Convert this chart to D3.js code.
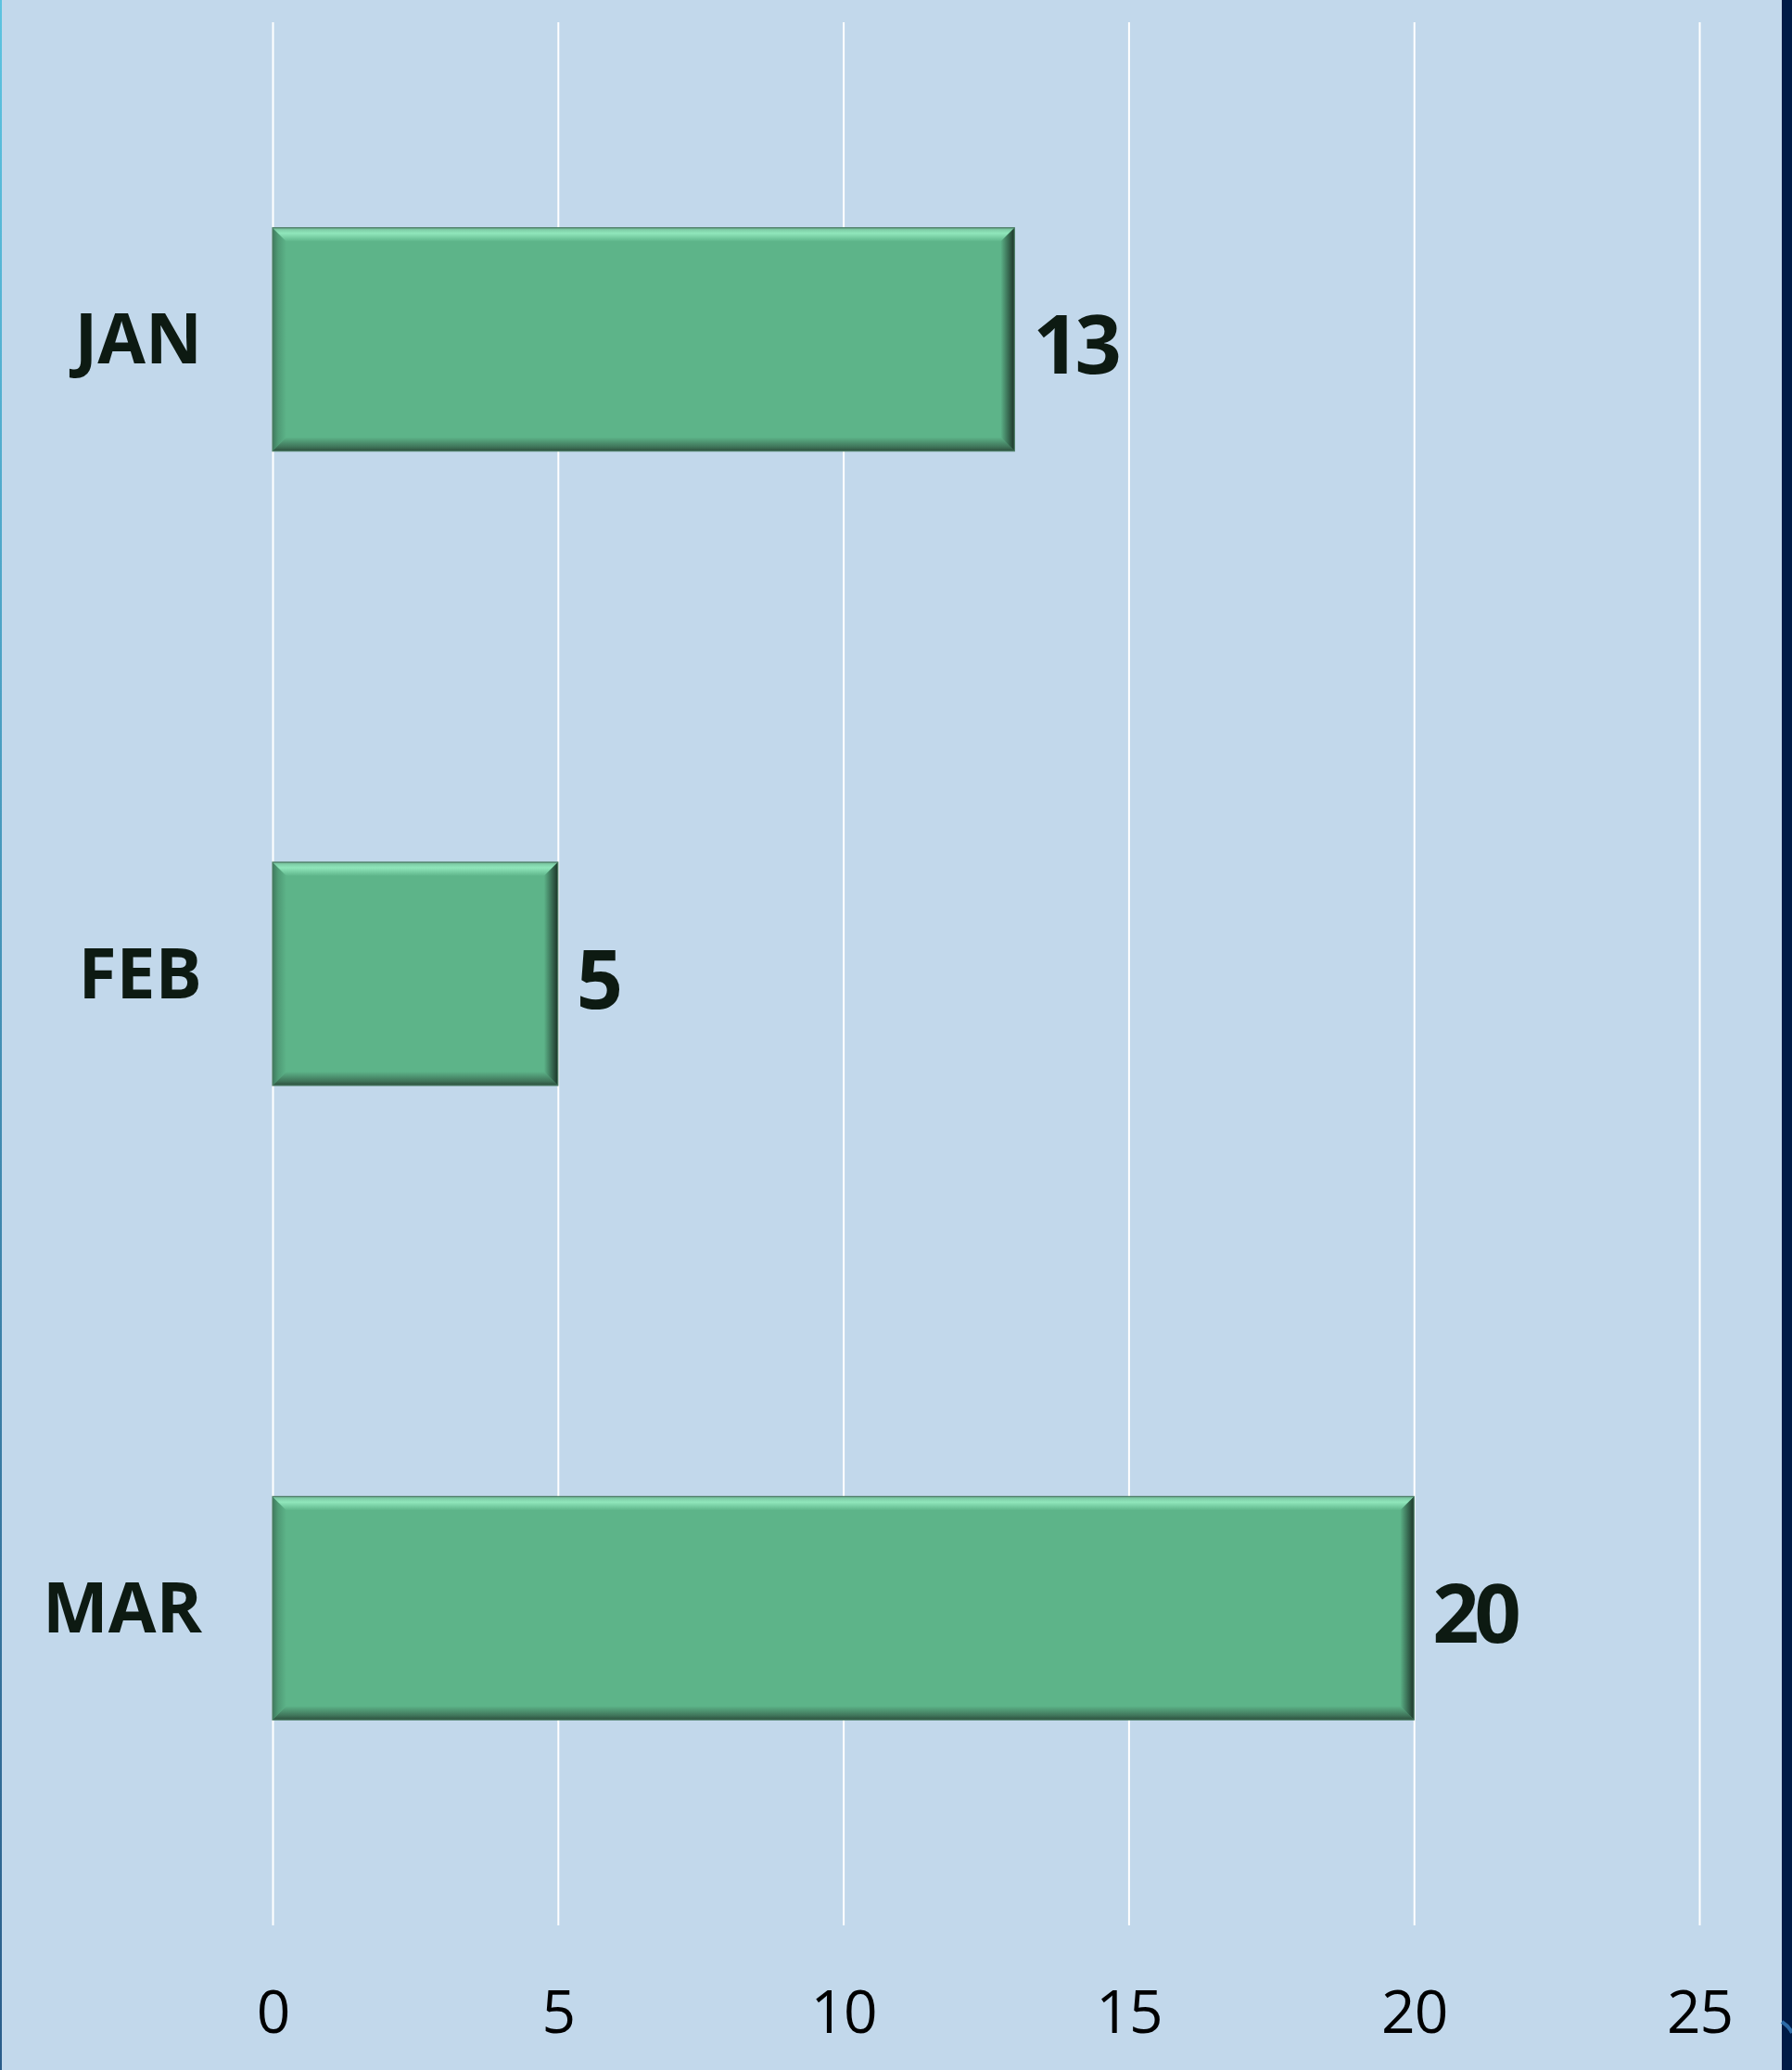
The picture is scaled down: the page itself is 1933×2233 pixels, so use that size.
<!DOCTYPE html>
<html>
<head>
<meta charset="utf-8">
<script src="https://cdn.jsdelivr.net/npm/d3@7"></script>
<style>
  html, body { margin: 0; padding: 0; background: #c2d8eb; }
  svg { display: block; }
  text { font-family: "Open Sans", "Noto Sans", sans-serif; }
</style>
</head>
<body>
<svg id="chart"></svg>
<script>
// data
let months = ["JAN", "FEB", "MAR"];
let counts = [13, 5, 20];
let xTicks = [0, 5, 10, 15, 20, 25];

let W = 1933, H = 2233;
let plot = { left: 294, right: 1833, top: 24, bottom: 2077 };

let svg = d3.select("#chart")
    .attr("width", W)
    .attr("height", H)

svg.append("rect")
    .attr("width", W)
    .attr("height", H)
    .attr("fill", "#c2d8eb")

let xScale = d3.scaleLinear()
    .domain([0, 25])
    .range([plot.left, plot.right])

let yScale = d3.scaleBand()
    .domain(months)
    .range([plot.top, plot.bottom])
    .paddingInner(0.648)
    .paddingOuter(0.324)

// gridlines + tick labels in one axis
let xAxis = d3.axisBottom(xScale)
    .tickValues(xTicks)
    .tickSize(-(plot.bottom - plot.top))
    .tickPadding(71)

let gx = svg.append("g")
    .attr("transform", "translate(0," + plot.bottom + ")")
    .call(xAxis)
gx.select(".domain").remove()
gx.selectAll("line").attr("stroke", "#ffffff").attr("stroke-width", 2)
gx.selectAll("text")
    .attr("fill", "#000")
    .style("font-size", "64px")
    .style("letter-spacing", "-1px")

// bevel gradients
let defs = svg.append("defs");
function grad(id, x1, y1, x2, y2, stops) {
    let g = defs.append("linearGradient").attr("id", id)
        .attr("x1", x1).attr("y1", y1).attr("x2", x2).attr("y2", y2)
    stops.forEach(s => g.append("stop").attr("offset", s[0]).attr("stop-color", s[1]))
}
let fill = "#5db489";
grad("bevTop", 0, 0, 0, 1, [[0, "#6aa888"], [0.15, "#7fcfa8"], [0.4, "#90e6bb"], [1, fill]])
grad("bevRight", 1, 0, 0, 0, [[0, "#1c3528"], [0.3, "#2f5a45"], [1, fill]])
grad("bevBottom", 0, 1, 0, 0, [[0, "#2c4f3d"], [0.3, "#3f7459"], [1, fill]])
grad("bevLeft", 0, 0, 1, 0, [[0, "#3f7a5e"], [0.4, "#4f9b76"], [1, fill]])

let bev = 15;
let bars = svg.append("g").selectAll("g")
    .data(months.map((m, i) => ({ month: m, value: counts[i] })))
    .enter()
    .append("g")

bars.append("rect")
    .attr("x", xScale(0))
    .attr("y", d => yScale(d.month))
    .attr("width", d => xScale(d.value) - xScale(0))
    .attr("height", yScale.bandwidth())
    .attr("fill", fill)

//four trapezoids make the bevelled edge
function trap(d, side) {
    let x0 = xScale(0), x1 = xScale(d.value);
    let y0 = yScale(d.month), y1 = y0 + yScale.bandwidth();
    let b = bev;
    if (side == "top") return [[x0, y0], [x1, y0], [x1 - b, y0 + b], [x0 + b, y0 + b]];
    if (side == "bottom") return [[x0, y1], [x1, y1], [x1 - b, y1 - b], [x0 + b, y1 - b]];
    if (side == "left") return [[x0, y0], [x0 + b, y0 + b], [x0 + b, y1 - b], [x0, y1]];
    return [[x1, y0], [x1 - b, y0 + b], [x1 - b, y1 - b], [x1, y1]];
}
let bevFill = { top: "url(#bevTop)", bottom: "url(#bevBottom)", left: "url(#bevLeft)", right: "url(#bevRight)" };
["left", "top", "bottom", "right"].forEach(side => {
    bars.append("polygon")
        .attr("points", d => trap(d, side).map(p => p.join(",")).join(" "))
        .attr("fill", bevFill[side])
})
bars.append("rect")
    .attr("x", xScale(0))
    .attr("y", d => yScale(d.month))
    .attr("width", d => xScale(d.value) - xScale(0))
    .attr("height", yScale.bandwidth())
    .attr("fill", "none")
    .attr("stroke", "#4c7d66")
    .attr("stroke-width", 1.2)

// value labels
bars.append("text")
    .attr("x", d => xScale(d.value) + 20)
    .attr("y", d => yScale(d.month) + yScale.bandwidth() / 2 + 37)
    .attr("fill", "#0d1a12")
    .style("font-size", "88px")
    .style("font-weight", "bold")
    .style("letter-spacing", "-5px")
    .text(d => d.value)

// category labels
let yAxis = d3.axisLeft(yScale)
    .tickSize(0)
    .tickPadding(76)
let gy = svg.append("g")
    .attr("transform", "translate(" + plot.left + ",0)")
    .call(yAxis)
gy.select(".domain").remove()
gy.selectAll("text")
    .attr("fill", "#0d1a12")
    .attr("dy", "0.35em")
    .style("font-size", "75px")
    .style("font-weight", "bold")

// slide frame edges
let edge = defs.append("linearGradient").attr("id", "edgeL")
    .attr("x1", 0).attr("y1", 0).attr("x2", 0).attr("y2", 1)
edge.append("stop").attr("offset", 0).attr("stop-color", "#5cc3e0")
edge.append("stop").attr("offset", 1).attr("stop-color", "#2a5d8a")
svg.append("rect").attr("x", 0).attr("y", 0).attr("width", 2).attr("height", H).attr("fill", "url(#edgeL)")
svg.append("rect").attr("x", 1922).attr("y", 0).attr("width", 11).attr("height", H).attr("fill", "#001b46")
svg.append("path")
    .attr("d", "M1922,2181 Q1930,2186 1933,2193")
    .attr("fill", "none")
    .attr("stroke", "#2c6aa6")
    .attr("stroke-width", 4)
</script>
</body>
</html>
